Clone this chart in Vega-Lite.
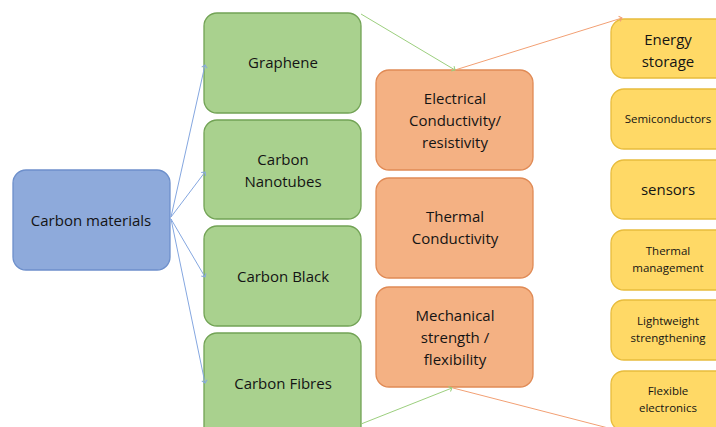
{
  "$schema": "https://vega.github.io/schema/vega-lite/v6.json",
  "width": 716,
  "height": 427,
  "autosize": "none",
  "padding": 0,
  "background": "white",
  "config": {"view": {"stroke": null}},
  "datasets": {
    "boxes": [
      {"name": "Carbon materials", "tier": "source", "size": "big", "x1": 13, "x2": 170, "y1": 170, "y2": 270, "cx": 91, "ty": 221},
      {"name": "Graphene", "tier": "material", "size": "big", "x1": 204, "x2": 361, "y1": 13, "y2": 113, "cx": 283, "ty": 63},
      {"name": "Carbon\nNanotubes", "tier": "material", "size": "big", "x1": 204, "x2": 361, "y1": 120, "y2": 219, "cx": 283, "ty": 160},
      {"name": "Carbon Black", "tier": "material", "size": "big", "x1": 204, "x2": 361, "y1": 226, "y2": 326, "cx": 283, "ty": 277},
      {"name": "Carbon Fibres", "tier": "material", "size": "big", "x1": 204, "x2": 361, "y1": 333, "y2": 440, "cx": 283, "ty": 384},
      {"name": "Electrical\nConductivity/\nresistivity", "tier": "property", "size": "big", "x1": 376, "x2": 533, "y1": 70, "y2": 170, "cx": 455, "ty": 99},
      {"name": "Thermal\nConductivity", "tier": "property", "size": "big", "x1": 376, "x2": 533, "y1": 178, "y2": 278, "cx": 455, "ty": 217},
      {"name": "Mechanical\nstrength /\nflexibility", "tier": "property", "size": "big", "x1": 376, "x2": 533, "y1": 287, "y2": 387, "cx": 455, "ty": 316},
      {"name": "Energy\nstorage", "tier": "application", "size": "big", "x1": 611, "x2": 730, "y1": 19, "y2": 78, "cx": 668, "ty": 40},
      {"name": "Semiconductors", "tier": "application", "size": "small", "x1": 611, "x2": 730, "y1": 89, "y2": 149, "cx": 668, "ty": 120},
      {"name": "sensors", "tier": "application", "size": "big", "x1": 611, "x2": 730, "y1": 160, "y2": 219, "cx": 668, "ty": 190},
      {"name": "Thermal\nmanagement", "tier": "application", "size": "small", "x1": 611, "x2": 730, "y1": 230, "y2": 290, "cx": 668, "ty": 252},
      {"name": "Lightweight\nstrengthening", "tier": "application", "size": "small", "x1": 611, "x2": 730, "y1": 300, "y2": 360, "cx": 668, "ty": 322},
      {"name": "Flexible\nelectronics", "tier": "application", "size": "small", "x1": 611, "x2": 730, "y1": 371, "y2": 431, "cx": 668, "ty": 392}
    ],
    "links": [
      {"kind": "blue", "xa": 171, "ya": 217, "xb": 205, "yb": 65},
      {"kind": "blue", "xa": 171, "ya": 217, "xb": 205, "yb": 172},
      {"kind": "blue", "xa": 171, "ya": 219, "xb": 205, "yb": 277},
      {"kind": "blue", "xa": 171, "ya": 219, "xb": 205, "yb": 383},
      {"kind": "green", "xa": 361, "ya": 14, "xb": 455, "yb": 70},
      {"kind": "green", "xa": 361, "ya": 424, "xb": 452, "yb": 388},
      {"kind": "orange", "xa": 455, "ya": 70, "xb": 622, "yb": 18},
      {"kind": "orange", "xa": 453, "ya": 388, "xb": 616, "yb": 430}
    ]
  },
  "layer": [
    {
      "data": {"name": "boxes"},
      "mark": {"type": "rect", "cornerRadius": 13, "strokeWidth": 1.3},
      "encoding": {
        "x": {"field": "x1", "type": "quantitative", "scale": {"domain": [0, 716]}, "axis": null},
        "x2": {"field": "x2"},
        "y": {"field": "y1", "type": "quantitative", "scale": {"domain": [0, 427], "reverse": true}, "axis": null},
        "y2": {"field": "y2"},
        "fill": {"field": "tier", "type": "nominal", "legend": null,
          "scale": {"domain": ["source", "material", "property", "application"], "range": ["#8eaadb", "#a9d18e", "#f4b183", "#ffd966"]}},
        "stroke": {"field": "tier", "type": "nominal", "legend": null,
          "scale": {"domain": ["source", "material", "property", "application"], "range": ["#6d8fcb", "#72a355", "#e08a55", "#e8bc3c"]}}
      }
    },
    {
      "data": {"name": "links"},
      "mark": {"type": "rule", "strokeWidth": 1},
      "encoding": {
        "x": {"field": "xa", "type": "quantitative", "scale": {"domain": [0, 716]}, "axis": null},
        "y": {"field": "ya", "type": "quantitative", "scale": {"domain": [0, 427], "reverse": true}, "axis": null},
        "x2": {"field": "xb"},
        "y2": {"field": "yb"},
        "color": {"field": "kind", "type": "nominal", "legend": null,
          "scale": {"domain": ["blue", "green", "orange"], "range": ["#85a7e0", "#9ccf7e", "#f2a074"]}}
      }
    },
    {
      "data": {"name": "links"},
      "transform": [{"calculate": "atan2(datum.yb - datum.ya, datum.xb - datum.xa) * 180 / PI", "as": "ang"}],
      "mark": {"type": "point", "shape": "M-1,-1L0,0L-1,1", "filled": false, "strokeWidth": 1, "size": 30, "opacity": 1},
      "encoding": {
        "x": {"field": "xb", "type": "quantitative", "scale": {"domain": [0, 716]}, "axis": null},
        "y": {"field": "yb", "type": "quantitative", "scale": {"domain": [0, 427], "reverse": true}, "axis": null},
        "angle": {"field": "ang", "type": "quantitative", "scale": null},
        "color": {"field": "kind", "type": "nominal", "legend": null,
          "scale": {"domain": ["blue", "green", "orange"], "range": ["#85a7e0", "#9ccf7e", "#f2a074"]}}
      }
    },
    {
      "data": {"name": "boxes"},
      "transform": [{"filter": "datum.size === 'big'"}],
      "mark": {"type": "text", "font": "Open Sans", "fontSize": 15, "fontWeight": 500, "lineBreak": "\n", "lineHeight": 22, "align": "center", "baseline": "middle", "color": "#141414"},
      "encoding": {
        "x": {"field": "cx", "type": "quantitative", "scale": {"domain": [0, 716]}, "axis": null},
        "y": {"field": "ty", "type": "quantitative", "scale": {"domain": [0, 427], "reverse": true}, "axis": null},
        "text": {"field": "name"}
      }
    },
    {
      "data": {"name": "boxes"},
      "transform": [{"filter": "datum.size === 'small'"}],
      "mark": {"type": "text", "font": "Open Sans", "fontSize": 11.5, "fontWeight": 500, "lineBreak": "\n", "lineHeight": 17, "align": "center", "baseline": "middle", "color": "#141414"},
      "encoding": {
        "x": {"field": "cx", "type": "quantitative", "scale": {"domain": [0, 716]}, "axis": null},
        "y": {"field": "ty", "type": "quantitative", "scale": {"domain": [0, 427], "reverse": true}, "axis": null},
        "text": {"field": "name"}
      }
    }
  ]
}
